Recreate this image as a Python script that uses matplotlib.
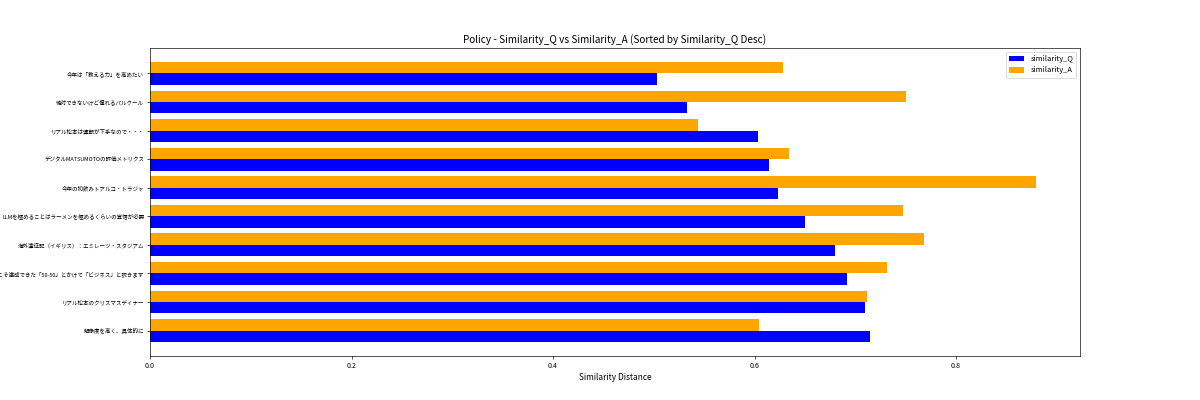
import numpy as np
import matplotlib
matplotlib.use('Agg')
import matplotlib.pyplot as plt

plt.rcParams['font.family'] = ['Noto Sans CJK JP', 'DejaVu Sans']

# sorted by similarity_Q desc (first item drawn at the bottom)
titles = [
    '解像度を高く、具体的に',
    'リアル松本のクリスマスディナー',
    '大谷翔平だからこそ達成できた「50-50」とかけて「ビジネス」と説きます',
    '海外遠征記（イギリス）：エミレーツ・スタジアム',
    'LLMを極めることはラーメンを極めるくらいの覚悟が必要',
    '今年の初飲みトアルコ・トラジャ',
    'デジタルMATSUMOTOの評価メトリクス',
    'リアル松本は運転が下手なので・・・',
    '絶対できないけど憧れるパルクール',
    '今年は「教える力」を高めたい',
]
similarity_q = [0.715, 0.710, 0.692, 0.680, 0.650, 0.623, 0.614, 0.603, 0.533, 0.503]
similarity_a = [0.604, 0.712, 0.731, 0.768, 0.747, 0.879, 0.634, 0.544, 0.750, 0.628]

fig, ax = plt.subplots(figsize=(20, 20 / 3))
y = np.arange(len(titles))
h = 0.4
ax.barh(y - h / 2, similarity_q, height=h, color='blue', label='similarity_Q')
ax.barh(y + h / 2, similarity_a, height=h, color='orange', label='similarity_A')
ax.set_yticks(y)
ax.set_yticklabels(titles, fontsize=6.6)
ax.tick_params(axis='x', labelsize=8.5)
ax.set_xlabel('Similarity Distance')
ax.set_title('Policy - Similarity_Q vs Similarity_A (Sorted by Similarity_Q Desc)')
ax.legend(loc='upper right', fontsize=9)
fig.savefig('out.png', dpi=60)
